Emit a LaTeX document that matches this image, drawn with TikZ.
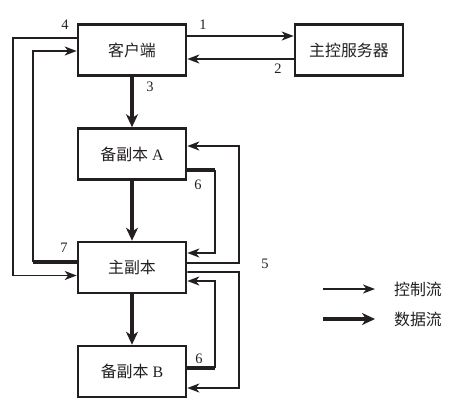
\documentclass[tikz,border=0pt]{standalone}
\usepackage{fontspec}
\setmainfont{Liberation Serif}
\newfontfamily\cjk{Noto Sans CJK SC}
\usetikzlibrary{arrows.meta,calc}
\definecolor{ink}{HTML}{231F20}
\tikzset{
  box/.style={draw=ink,line width=2.6bp,minimum width=108bp,minimum height=51bp,inner sep=0pt,text=ink,font=\fontsize{16}{18}\selectfont},
  ctrl/.style={draw=ink,line width=1.8bp,-{Stealth[length=12bp,width=9bp,inset=3.5bp]}},
  ctrlline/.style={draw=ink,line width=1.8bp},
  data/.style={draw=ink,line width=3.4bp,-{Stealth[length=13bp,width=12bp,inset=4bp]}},
  dataline/.style={draw=ink,line width=3.4bp},
  num/.style={text=ink,inner sep=0pt,font=\fontsize{14.5}{16}\selectfont},
  leg/.style={text=ink,inner sep=0pt,font=\fontsize{16}{18}\selectfont\cjk}
}
\begin{document}
\begin{tikzpicture}[x=1bp,y=-1bp]
\useasboundingbox (0,0) rectangle (460,408);
\node[box] (client) at (132,50) {\cjk 客户端};
\node[box] (master) at (349,50) {\cjk 主控服务器};
\node[box] (repA) at (132,154) {{\cjk 备副本} A};
\node[box] (prim) at (132,267.5) {\cjk 主副本};
\node[box] (repB) at (132,371.5) {{\cjk 备副本} B};
% 1 and 2
\coordinate (c1) at ($(client.east)+(0,-14)$);
\draw[ctrl] (c1) -- (c1 -| master.west);
\coordinate (c2) at ($(master.west)+(0,9)$);
\draw[ctrl] (c2) -- (c2 -| client.east);
% 3
\draw[data] (client.south) -- (repA.north);
\draw[data] (repA.south) -- (prim.north);
\draw[data] (prim.south) -- (repB.north);
% 4
\coordinate (c4a) at ($(client.west)+(0,-12)$);
\coordinate (c4b) at ($(prim.west)+(0,8)$);
\draw[ctrl] (c4a) -| (13,275.5) -- (c4b);
% 7
\coordinate (c7a) at ($(prim.west)+(0,-5.5)$);
\coordinate (c7b) at ($(client.west)+(0,1)$);
\coordinate (c7c) at (33,262);
\draw[dataline] (c7a) -- (c7c);
\draw[ctrl] (c7c) |- (c7b);
% 6 A
\coordinate (c6a) at ($(repA.east)+(0,16)$);
\coordinate (c6b) at ($(prim.east)+(0,-14.5)$);
\coordinate (c6c) at (215,170);
\draw[dataline] (c6a) -- (c6c);
\draw[ctrl] (c6c) |- (c6b);
% 5 A
\coordinate (c5a) at ($(prim.east)+(0,-4.5)$);
\coordinate (c5b) at ($(repA.east)+(0,-8)$);
\draw[ctrl] (c5a) -| (239,146) -- (c5b);
% 5 B
\coordinate (c5c) at ($(prim.east)+(0,4.5)$);
\coordinate (c5d) at ($(repB.east)+(0,16.5)$);
\draw[ctrl] (c5c) -| (239,388) -- (c5d);
% 6 B
\coordinate (c6d) at ($(repB.east)+(0,-3.5)$);
\coordinate (c6e) at ($(prim.east)+(0,13.5)$);
\coordinate (c6f) at (215,368);
\draw[dataline] (c6d) -- (c6f);
\draw[ctrl] (c6f) |- (c6e);
% labels
\node[num] (l1) at (203,25) {1};
\node[num] (l2) at (278,69) {2};
\node[num] (l3) at (150,87) {3};
\node[num] (l4) at (65,25) {4};
\node[num] (l7) at (64,248) {7};
\node[num] (l6a) at (198,185) {6};
\node[num] (l5) at (265,264) {5};
\node[num] (l6b) at (199,359) {6};
% legend
\coordinate (g1a) at (323,289);
\coordinate (g1b) at (375,289);
\draw[ctrl] (g1a) -- (g1b);
\node[leg] (t1) at (418,289) {控制流};
\coordinate (g2a) at (323,319);
\coordinate (g2b) at (375,319);
\draw[data] (g2a) -- (g2b);
\node[leg] (t2) at (418,319) {数据流};
\end{tikzpicture}
\end{document}
